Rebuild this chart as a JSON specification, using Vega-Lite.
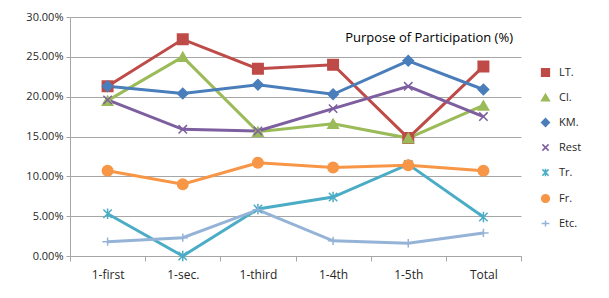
{
  "$schema": "https://vega.github.io/schema/vega-lite/v6.json",
  "width": 451,
  "height": 239,
  "autosize": {"type": "none"},
  "padding": {"left": 70, "top": 17, "right": 88, "bottom": 42},
  "background": "white",
  "title": {
    "text": "Purpose of Participation (%)",
    "anchor": "end",
    "frame": "group",
    "orient": "top",
    "offset": -34,
    "dx": -8,
    "font": "Open Sans",
    "fontSize": 13,
    "fontWeight": "normal",
    "color": "#000000"
  },
  "data": {
    "values": [
      {"cat": "1-first", "series": "LT.", "value": 0.213},
      {"cat": "1-sec.", "series": "LT.", "value": 0.272},
      {"cat": "1-third", "series": "LT.", "value": 0.235},
      {"cat": "1-4th", "series": "LT.", "value": 0.240},
      {"cat": "1-5th", "series": "LT.", "value": 0.148},
      {"cat": "Total", "series": "LT.", "value": 0.238},
      {"cat": "1-first", "series": "Cl.", "value": 0.195},
      {"cat": "1-sec.", "series": "Cl.", "value": 0.250},
      {"cat": "1-third", "series": "Cl.", "value": 0.156},
      {"cat": "1-4th", "series": "Cl.", "value": 0.166},
      {"cat": "1-5th", "series": "Cl.", "value": 0.148},
      {"cat": "Total", "series": "Cl.", "value": 0.189},
      {"cat": "1-first", "series": "KM.", "value": 0.213},
      {"cat": "1-sec.", "series": "KM.", "value": 0.204},
      {"cat": "1-third", "series": "KM.", "value": 0.215},
      {"cat": "1-4th", "series": "KM.", "value": 0.203},
      {"cat": "1-5th", "series": "KM.", "value": 0.245},
      {"cat": "Total", "series": "KM.", "value": 0.209},
      {"cat": "1-first", "series": "Rest", "value": 0.196},
      {"cat": "1-sec.", "series": "Rest", "value": 0.159},
      {"cat": "1-third", "series": "Rest", "value": 0.157},
      {"cat": "1-4th", "series": "Rest", "value": 0.185},
      {"cat": "1-5th", "series": "Rest", "value": 0.213},
      {"cat": "Total", "series": "Rest", "value": 0.175},
      {"cat": "1-first", "series": "Tr.", "value": 0.053},
      {"cat": "1-sec.", "series": "Tr.", "value": 0.0},
      {"cat": "1-third", "series": "Tr.", "value": 0.059},
      {"cat": "1-4th", "series": "Tr.", "value": 0.074},
      {"cat": "1-5th", "series": "Tr.", "value": 0.115},
      {"cat": "Total", "series": "Tr.", "value": 0.049},
      {"cat": "1-first", "series": "Fr.", "value": 0.107},
      {"cat": "1-sec.", "series": "Fr.", "value": 0.090},
      {"cat": "1-third", "series": "Fr.", "value": 0.117},
      {"cat": "1-4th", "series": "Fr.", "value": 0.111},
      {"cat": "1-5th", "series": "Fr.", "value": 0.114},
      {"cat": "Total", "series": "Fr.", "value": 0.107},
      {"cat": "1-first", "series": "Etc.", "value": 0.018},
      {"cat": "1-sec.", "series": "Etc.", "value": 0.023},
      {"cat": "1-third", "series": "Etc.", "value": 0.058},
      {"cat": "1-4th", "series": "Etc.", "value": 0.019},
      {"cat": "1-5th", "series": "Etc.", "value": 0.016},
      {"cat": "Total", "series": "Etc.", "value": 0.029}
    ]
  },
  "encoding": {
    "x": {
      "field": "cat",
      "type": "nominal",
      "sort": ["1-first", "1-sec.", "1-third", "1-4th", "1-5th", "Total"],
      "scale": {"paddingInner": 0, "paddingOuter": 0},
      "axis": {
        "title": null,
        "labelAngle": 0,
        "tickBand": "extent",
        "grid": false,
        "domainColor": "#a6a6a6",
        "tickColor": "#a6a6a6",
        "tickSize": 5,
        "labelPadding": 8,
        "labelFont": "Open Sans",
        "labelFontSize": 12,
        "labelColor": "#262626"
      }
    },
    "y": {
      "field": "value",
      "type": "quantitative",
      "scale": {"domain": [0, 0.3], "nice": false},
      "axis": {
        "title": null,
        "format": ".2%",
        "values": [0, 0.05, 0.1, 0.15, 0.2, 0.25, 0.3],
        "gridColor": "#a6a6a6",
        "domainColor": "#a6a6a6",
        "tickColor": "#a6a6a6",
        "tickSize": 4,
        "labelPadding": 3,
        "labelFont": "Open Sans",
        "labelFontSize": 11,
        "labelColor": "#262626"
      }
    },
    "color": {
      "field": "series",
      "type": "nominal",
      "scale": {
        "domain": ["LT.", "Cl.", "KM.", "Rest", "Tr.", "Fr.", "Etc."],
        "range": ["#BE4B48", "#9BBB59", "#4A7EBB", "#7D5FA0", "#4BACC6", "#F79646", "#95B3D7"]
      },
      "legend": {
        "title": null,
        "orient": "none",
        "legendX": 470,
        "legendY": 50,
        "labelFont": "Open Sans",
        "labelFontSize": 11,
        "labelColor": "#262626",
        "labelOffset": 8,
        "rowPadding": 11,
        "symbolSize": 60,
        "symbolStrokeWidth": 1.5,
        "padding": 0
      }
    }
  },
  "layer": [
    {
      "mark": {"type": "line", "strokeWidth": 3}
    },
    {
      "mark": {"type": "point", "size": 110, "strokeWidth": 1.5, "opacity": 1, "filled": false},
      "encoding": {
        "fill": {
          "field": "series",
          "type": "nominal",
          "scale": {
            "domain": ["LT.", "Cl.", "KM.", "Rest", "Tr.", "Fr.", "Etc."],
            "range": ["#BE4B48", "#9BBB59", "#4A7EBB", "#7D5FA0", "#4BACC6", "#F79646", "#95B3D7"]
          },
          "legend": null
        },
        "shape": {
          "field": "series",
          "type": "nominal",
          "scale": {
            "domain": ["LT.", "Cl.", "KM.", "Rest", "Tr.", "Fr.", "Etc."],
            "range": ["square", "triangle-up", "diamond", "M-0.8,-0.8L0.8,0.8M-0.8,0.8L0.8,-0.8", "M-0.8,-0.8L0.8,0.8M-0.8,0.8L0.8,-0.8M0,-1L0,1", "circle", "M-1,0L1,0M0,-0.8L0,0.8"]
          },
          "legend": {
            "title": null,
            "orient": "none",
            "legendX": 470,
            "legendY": 50,
            "labelFont": "Open Sans",
            "labelFontSize": 11,
            "labelColor": "#262626",
            "labelOffset": 8,
            "rowPadding": 11,
            "symbolSize": 60,
            "symbolStrokeWidth": 1.5,
            "padding": 0
          }
        }
      }
    }
  ],
  "config": {
    "view": {"stroke": null}
  }
}
